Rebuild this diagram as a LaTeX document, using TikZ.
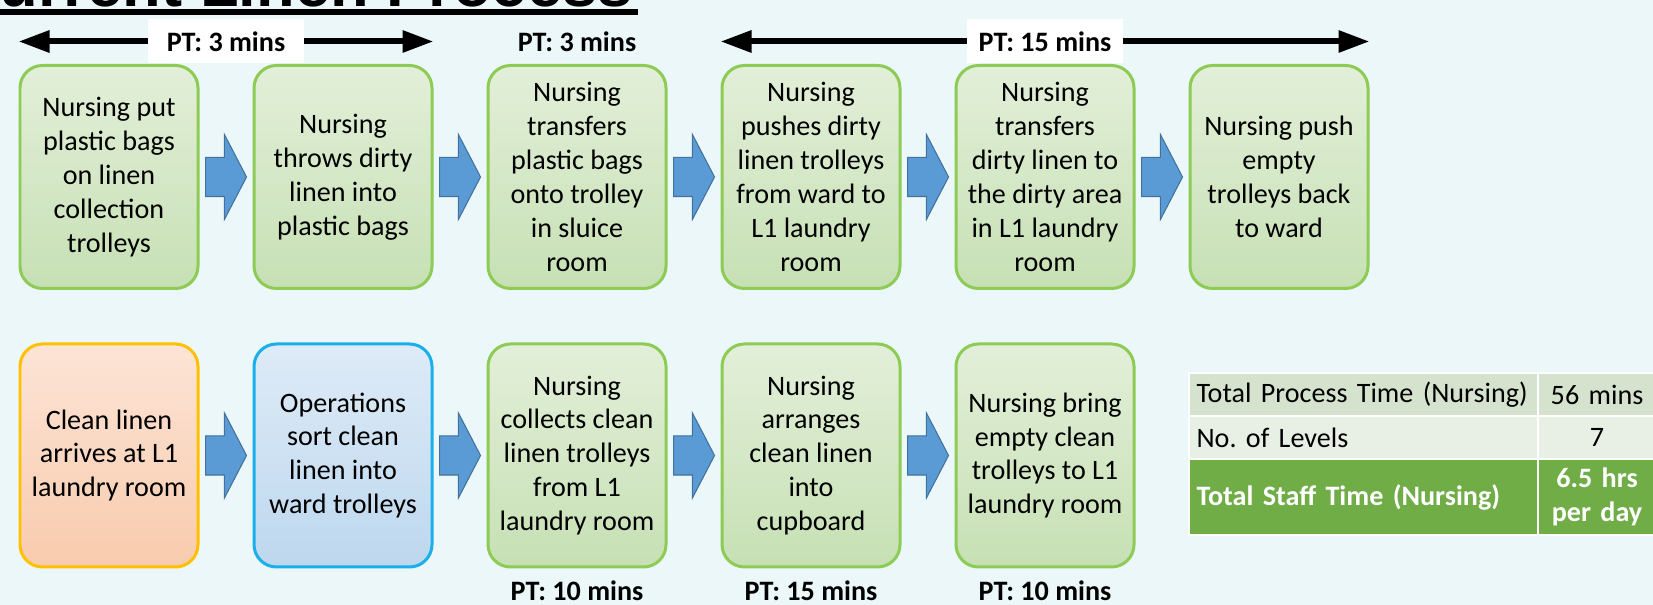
\documentclass[tikz,border=0pt]{standalone}
\usepackage{fontspec}
\setmainfont{Carlito}
\newfontfamily\titlefont{Liberation Sans}
\usetikzlibrary{arrows.meta,shapes.arrows}

\definecolor{pagebg}{HTML}{EBF7F8}
\definecolor{greenline}{HTML}{8DCB55}
\definecolor{greentop}{HTML}{E3EFD9}
\definecolor{greenbot}{HTML}{C6E0B4}
\definecolor{orangeline}{HTML}{FFC000}
\definecolor{orangetop}{HTML}{FCE4D6}
\definecolor{orangebot}{HTML}{F8CBAD}
\definecolor{blueline}{HTML}{1AAFEA}
\definecolor{bluetop}{HTML}{DEEBF7}
\definecolor{bluebot}{HTML}{BDD7EE}
\definecolor{arrowfill}{HTML}{5B9BD5}
\definecolor{arrowline}{HTML}{41719C}
\definecolor{rowa}{HTML}{D5E3CE}
\definecolor{rowb}{HTML}{E8EFE5}
\definecolor{rowc}{HTML}{70AD47}

\begin{document}
\frenchspacing
\begin{tikzpicture}[
  every node/.style={font=\fontsize{16}{19.3}\selectfont},
  box/.style={rounded corners=0.45cm,line width=0.06cm,minimum width=3.56cm,minimum height=4.46cm,align=center,inner sep=0.1cm},
  nursebox/.style={box,draw=greenline,top color=greentop,bottom color=greenbot},
  cleanbox/.style={box,draw=orangeline,top color=orangetop,bottom color=orangebot},
  opsbox/.style={box,draw=blueline,top color=bluetop,bottom color=bluebot},
  blockarr/.style={single arrow,draw=arrowline,fill=arrowfill,line width=0.6pt,minimum height=0.82cm,single arrow head extend=0.46cm,single arrow tip angle=125,inner xsep=0,inner ysep=0.38cm,anchor=tail},
  ptlabel/.style={font=\fontsize{16}{19.3}\selectfont\bfseries,inner sep=0},
  ptbox/.style={ptlabel,fill=white,minimum width=3.12cm,minimum height=0.88cm},
  ptarrow/.style={line width=0.12cm,-{Triangle[length=0.62cm,width=0.42cm]}},
  cell/.style={draw=white,line width=0.04cm,minimum height=0.86cm,inner xsep=0.15cm,inner ysep=0,anchor=north west}
]

\fill [pagebg] (0,0) rectangle (33.06,12.1);
\useasboundingbox (0,0) rectangle (33.06,12.1);
\clip (0,0) rectangle (33.06,12.1);

\node (title) at (12.66,11.96) [anchor=base east,inner sep=0,font=\titlefont\fontsize{36}{40}\selectfont\bfseries] {Current Linen Process};
\draw [line width=0.11cm] ([yshift=-0.1cm]title.base west) -- ([xshift=0.1cm,yshift=-0.1cm]title.base east);

\node (t1) at (2.18,8.56) [nursebox] {Nursing put\\plastic bags\\on linen\\collection\\trolleys};
\node (t2) at (6.86,8.56) [nursebox] {Nursing\\throws dirty\\linen into\\plastic bags};
\node (t3) at (11.54,8.56) [nursebox] {Nursing\\transfers\\plastic bags\\onto trolley\\in sluice\\room};
\node (t4) at (16.22,8.56) [nursebox] {Nursing\\pushes dirty\\linen trolleys\\from ward to\\L1 laundry\\room};
\node (t5) at (20.90,8.56) [nursebox] {Nursing\\transfers\\dirty linen to\\the dirty area\\in L1 laundry\\room};
\node (t6) at (25.58,8.56) [nursebox] {Nursing push\\empty\\trolleys back\\to ward};

\node (b1) at (2.18,2.99) [cleanbox] {Clean linen\\arrives at L1\\laundry room};
\node (b2) at (6.86,2.99) [opsbox] {Operations\\sort clean\\linen into\\ward trolleys};
\node (b3) at (11.54,2.99) [nursebox] {Nursing\\collects clean\\linen trolleys\\from L1\\laundry room};
\node (b4) at (16.22,2.99) [nursebox] {Nursing\\arranges\\clean linen\\into\\cupboard};
\node (b5) at (20.90,2.99) [nursebox] {Nursing bring\\empty clean\\trolleys to L1\\laundry room};

\node (a1) at ([xshift=0.11cm]t1.east) [blockarr] {};
\node (a2) at ([xshift=0.11cm]t2.east) [blockarr] {};
\node (a3) at ([xshift=0.11cm]t3.east) [blockarr] {};
\node (a4) at ([xshift=0.11cm]t4.east) [blockarr] {};
\node (a5) at ([xshift=0.11cm]t5.east) [blockarr] {};
\node (a6) at ([xshift=0.11cm]b1.east) [blockarr] {};
\node (a7) at ([xshift=0.11cm]b2.east) [blockarr] {};
\node (a8) at ([xshift=0.11cm]b3.east) [blockarr] {};
\node (a9) at ([xshift=0.11cm]b4.east) [blockarr] {};

\node (p1) at (4.52,11.27) [ptbox] {PT: 3 mins};
\node (p2) at (11.54,11.27) [ptlabel] {PT: 3 mins};
\node (p3) at (20.90,11.27) [ptbox] {PT: 15 mins};
\node (p4) at (11.54,0.28) [ptlabel] {PT: 10 mins};
\node (p5) at (16.22,0.28) [ptlabel] {PT: 15 mins};
\node (p6) at (20.90,0.28) [ptlabel] {PT: 10 mins};

\draw [ptarrow] (p1.west) -- (t1.west |- p1);
\draw [ptarrow] (p1.east) -- (t2.east |- p1);
\draw [ptarrow] (p3.west) -- (t4.west |- p3);
\draw [ptarrow] (p3.east) -- (t6.east |- p3);

\node (c11) at (23.76,4.66) [cell,fill=rowa,text width=6.68cm,align=left] {Total Process Time (Nursing)};
\node (c12) at (30.74,4.66) [cell,fill=rowa,text width=2.06cm,align=center] {56 mins};
\node (c21) at (23.76,3.80) [cell,fill=rowb,text width=6.68cm,align=left] {No. of Levels};
\node (c22) at (30.74,3.80) [cell,fill=rowb,text width=2.06cm,align=center] {7};
\node (c31) at (23.76,2.94) [cell,fill=rowc,minimum height=1.52cm,text width=6.68cm,align=left,text=white,font=\fontsize{16}{19.3}\selectfont\bfseries] {Total Staff Time (Nursing)};
\node (c32) at (30.74,2.94) [cell,fill=rowc,minimum height=1.52cm,text width=2.06cm,align=center,text=white,font=\fontsize{16}{19.3}\selectfont\bfseries] {6.5 hrs\\per day};

\end{tikzpicture}
\end{document}
